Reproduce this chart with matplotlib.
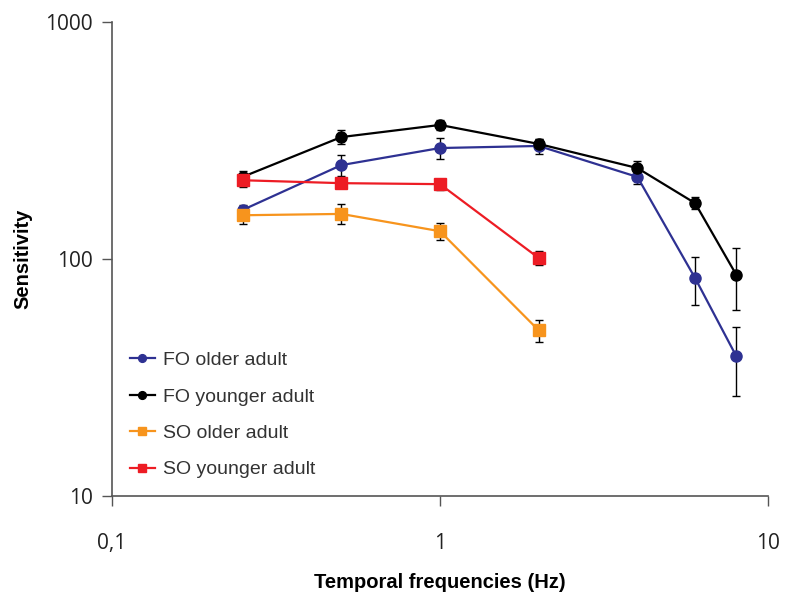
import matplotlib.pyplot as plt
from matplotlib.ticker import FixedLocator, FixedFormatter, NullLocator

# data
freq_fo = [0.25, 0.5, 1, 2, 4, 6, 8]
freq_so = [0.25, 0.5, 1, 2]

fo_older = [161, 249, 294, 300, 222, 83, 39]
fo_older_err = [8, 25, 29, 22, 15, 19, 12.5]

fo_younger = [222, 327, 368, 306, 242, 172, 86]
fo_younger_err = [14, 22, 17, 15, 18, 10, 25]

so_older = [153, 155, 131, 50]
so_older_err = [12, 15, 11, 5.5]

so_younger = [215, 209, 207, 101]
so_younger_err = [14, 10, 11, 7]

labels = ["FO older adult", "FO younger adult", "SO older adult", "SO younger adult"]
colors = ["#2E3192", "#000000", "#F7941D", "#ED1C24"]

fig = plt.figure(figsize=(7.86, 5.96), dpi=100)
ax = fig.add_axes([0.1425, 0.1678, 0.977 - 0.1425, 0.963 - 0.1678])

series = [
    (freq_fo, fo_older, fo_older_err, "o"),
    (freq_fo, fo_younger, fo_younger_err, "o"),
    (freq_so, so_older, so_older_err, "s"),
    (freq_so, so_younger, so_younger_err, "s"),
]

handles = []
for (x, y, e, m), lab, c in zip(series, labels, colors):
    ax.errorbar(x, y, yerr=e, fmt="none", ecolor="black", elinewidth=1,
                capsize=3, capthick=1, zorder=2)
    h, = ax.plot(x, y, color=c, marker=m, markersize=8, linewidth=1.6,
                 label=lab, zorder=3)
    handles.append(h)

ax.set_xscale("log")
ax.set_yscale("log")
ax.set_xlim(0.1, 10)
ax.set_ylim(10, 1000)

ax.xaxis.set_major_locator(FixedLocator([0.1, 1, 10]))
ax.xaxis.set_major_formatter(FixedFormatter(["0,1", "1", "10"]))
ax.xaxis.set_minor_locator(NullLocator())
ax.yaxis.set_major_locator(FixedLocator([10, 100, 1000]))
ax.yaxis.set_major_formatter(FixedFormatter(["10", "100", "1000"]))
ax.yaxis.set_minor_locator(NullLocator())

for s in ["top", "right"]:
    ax.spines[s].set_visible(False)
for s in ["left", "bottom"]:
    ax.spines[s].set_color("#555555")
    ax.spines[s].set_linewidth(1.2)

ax.tick_params(axis="both", direction="out", length=7, width=1, color="#555555",
               labelsize=15, labelcolor="#222222")
ax.tick_params(axis="x", pad=20)
ax.tick_params(axis="y", pad=7)
for t in ax.get_xticklabels() + ax.get_yticklabels():
    t.set_family("Open Sans")

ax.set_xlabel("Temporal frequencies (Hz)", fontsize=14.5, fontweight="bold",
              family="Liberation Sans", labelpad=13)
ax.set_ylabel("Sensitivity", fontsize=14.5, fontweight="bold",
              family="Liberation Sans", labelpad=9)

leg = ax.legend(handles=handles, loc="lower left", bbox_to_anchor=(0.0, 0.0),
                frameon=False, markerscale=0.7, handlelength=1.3,
                handletextpad=0.4, labelspacing=0.97,
                prop={"family": "Liberation Sans", "size": 14})
for t in leg.get_texts():
    t.set_color("#333333")

fig.savefig("out.png", dpi=100)
